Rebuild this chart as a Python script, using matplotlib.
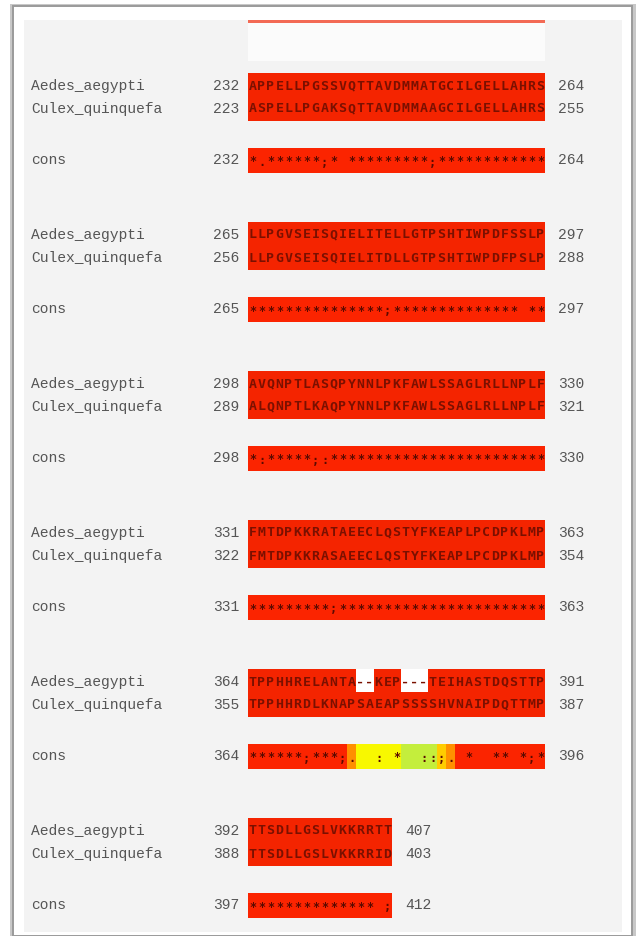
import matplotlib
matplotlib.use("Agg")
import matplotlib.pyplot as plt
from matplotlib.patches import Rectangle

# ---------------- data ----------------
seq_names = ["Aedes_aegypti", "Culex_quinquefa"]
cons_label = "cons"

aedes_seq = [
    "APPELLPGSSVQTTAVDMMATGCILGELLAHRS",
    "LLPGVSEISQIELITELLGTPSHTIWPDFSSLP",
    "AVQNPTLASQPYNNLPKFAWLSSAGLRLLNPLF",
    "FMTDPKKRATAEECLQSTYFKEAPLPCDPKLMP",
    "TPPHHRELANTA--KEP---TEIHASTDQSTTP",
    "TTSDLLGSLVKKRRTT",
]
aedes_start = [232, 265, 298, 331, 364, 392]
aedes_end = [264, 297, 330, 363, 391, 407]

culex_seq = [
    "ASPELLPGAKSQTTAVDMMAAGCILGELLAHRS",
    "LLPGVSEISQIELITDLLGTPSHTIWPDFPSLP",
    "ALQNPTLKAQPYNNLPKFAWLSSAGLRLLNPLF",
    "FMTDPKKRASAEECLQSTYFKEAPLPCDPKLMP",
    "TPPHHRDLKNAPSAEAPSSSSHVNAIPDQTTMP",
    "TTSDLLGSLVKKRRID",
]
culex_start = [223, 256, 289, 322, 355, 388]
culex_end = [255, 288, 321, 354, 387, 403]

cons_seq = [
    "*.******;* *********;************",
    "***************;************** **",
    "*:*****;:************************",
    "*********;***********************",
    "******;***;.  : *  ::;. *  ** *;*",
    "************** ;",
]
cons_start = [232, 265, 298, 331, 364, 397]
cons_end = [264, 297, 330, 363, 396, 412]

# per-column conservation score of the consensus rows (9 = high)
cons_score = [
    "9" * 33,
    "9" * 33,
    "9" * 33,
    "9" * 33,
    "99999999999" + "7" + "55555" + "3333" + "6" + "7" + "9" * 10,
    "9" * 16,
]

# ---------------- style ----------------
score_color = {"9": "#fb2400", "7": "#ff9000", "6": "#ffcc00",
               "5": "#f8f800", "3": "#c4ee3c"}
seq_red = "#f42400"
letter_col = "#7a1000"
label_col = "#555555"
label_font = ["Liberation Mono", "DejaVu Sans Mono"]
seq_font = ["DejaVu Sans Mono"]

W, H = 644, 936
fig = plt.figure(figsize=(W / 100, H / 100), dpi=100)
fig.patch.set_facecolor("white")
ax = fig.add_axes([0, 0, 1, 1])
ax.set_xlim(0, W)
ax.set_ylim(H, 0)
ax.axis("off")

# frame (screenshot look)
ax.add_patch(Rectangle((10, 4), 626, 932, facecolor="#c8c8c8", edgecolor="none", zorder=0))
ax.add_patch(Rectangle((13, 6), 619, 930, facecolor="white", edgecolor="#9a9a9a", lw=1.4, zorder=1))
ax.add_patch(Rectangle((24, 20), 598, 912, facecolor="#f3f3f3", edgecolor="none", zorder=2))
# remnant of previous block at top
ax.add_patch(Rectangle((248, 20), 297, 3, facecolor="#f36a55", edgecolor="none", zorder=3))
ax.add_patch(Rectangle((248, 23), 297, 38, facecolor="#fbfbfb", edgecolor="none", zorder=3))

x0 = 248
cw = 9.0
name_x = 31
num_right = 239


def draw_letters(s, y, color, size, weight="bold", dy=0):
    for c, ch in enumerate(s):
        if ch == " ":
            continue
        ax.text(x0 + cw * c + cw / 2, y + dy, ch, ha="center", va="center",
                fontsize=size, family=seq_font, weight=weight, color=color, zorder=6)


for k in range(6):
    y0 = 86 + 149 * k
    yc = y0 + 23
    ycons = y0 + 74
    n = max(len(aedes_seq[k]), len(culex_seq[k]))

    # sequence red block
    ax.add_patch(Rectangle((x0, y0 - 13), cw * n, 48, facecolor=seq_red,
                           edgecolor="none", zorder=4))
    for c, ch in enumerate(aedes_seq[k]):
        if ch == "-":
            ax.add_patch(Rectangle((x0 + cw * c, y0 - 13), cw, 23, facecolor="white",
                                   edgecolor="none", zorder=5))
    # consensus coloured cells
    for c, sc in enumerate(cons_score[k]):
        ax.add_patch(Rectangle((x0 + cw * c - 0.05, ycons - 12), cw + 0.1, 25,
                               facecolor=score_color[sc], edgecolor="none", zorder=4))

    draw_letters(aedes_seq[k], y0, letter_col, 9.5)
    draw_letters(culex_seq[k], yc, letter_col, 9.5)
    draw_letters(cons_seq[k], ycons, "#5a0a00", 8.5, dy=2)

    ytxt = [y0, yc, ycons]
    labels = [seq_names[0], seq_names[1], cons_label]
    starts = [aedes_start[k], culex_start[k], cons_start[k]]
    ends = [aedes_end[k], culex_end[k], cons_end[k]]
    ncols = [len(aedes_seq[k]), len(culex_seq[k]), len(cons_seq[k])]
    for yt, lab, st, en, nc in zip(ytxt, labels, starts, ends, ncols):
        ax.text(name_x, yt, lab, ha="left", va="center", fontsize=10.5,
                family=label_font, color=label_col, zorder=6)
        ax.text(num_right, yt, str(st), ha="right", va="center", fontsize=10.5,
                family=label_font, color=label_col, zorder=6)
        ax.text(x0 + cw * nc + 13, yt, str(en), ha="left", va="center", fontsize=10.5,
                family=label_font, color=label_col, zorder=6)

fig.savefig("out.png", dpi=100, facecolor=fig.get_facecolor())
